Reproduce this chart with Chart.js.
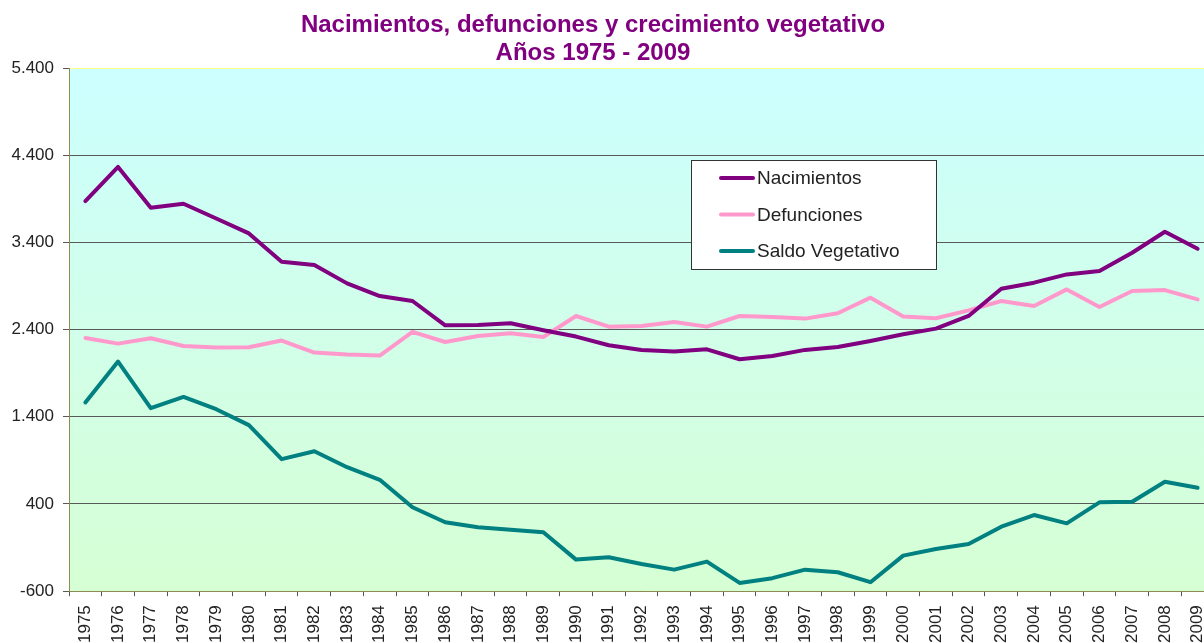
<!DOCTYPE html>
<html lang="es">
<head>
  <meta charset="UTF-8">
  <title>Nacimientos, defunciones y crecimiento vegetativo</title>
  <script src="https://cdn.jsdelivr.net/npm/chart.js@4.4.1/dist/chart.umd.min.js"></script>
  <style>
    html, body { margin: 0; padding: 0; overflow: hidden; background: #fff; }
    .chartbox { width: 1227px; height: 652px; position: relative; }
  </style>
</head>
<body>

  <div class="chartbox">
    <canvas id="myChart"></canvas>
  </div>

  <script>
    // Datos
    const titleLines = ['Nacimientos, defunciones y crecimiento vegetativo', 'Años 1975 - 2009'];

    const years = ['1975', '1976', '1977', '1978', '1979', '1980', '1981', '1982', '1983', '1984',
      '1985', '1986', '1987', '1988', '1989', '1990', '1991', '1992', '1993', '1994',
      '1995', '1996', '1997', '1998', '1999', '2000', '2001', '2002', '2003', '2004',
      '2005', '2006', '2007', '2008', '2009'];

    const nacimientos = [3873, 4266, 3797, 3843, 3674, 3503, 3179, 3140, 2930, 2785,
      2728, 2449, 2453, 2472, 2392, 2320, 2220, 2167, 2148, 2174,
      2060, 2098, 2167, 2201, 2270, 2346, 2411, 2556, 2869, 2938,
      3033, 3071, 3281, 3522, 3327];

    const defunciones = [2304, 2239, 2300, 2212, 2194, 2197, 2274, 2136, 2114, 2102,
      2373, 2258, 2327, 2358, 2315, 2556, 2434, 2441, 2487, 2434,
      2556, 2544, 2526, 2587, 2766, 2549, 2530, 2621, 2728, 2670,
      2861, 2659, 2842, 2853, 2747];

    const saldo = [1564, 2033, 1499, 1628, 1487, 1304, 914, 1005, 822, 677,
      362, 190, 133, 105, 75, -238, -211, -288, -353, -261,
      -505, -451, -353, -383, -497, -192, -116, -58, 140, 273,
      178, 419, 426, 655, 586];

    const yTicks = [-600, 400, 1400, 2400, 3400, 4400, 5400];

    function fmt(v) {
      return String(v).replace(/\B(?=(\d{3})+(?!\d))/g, '.');
    }

    /* fondo degradado del area del grafico */
    const background = {
      id: 'background',
      beforeDraw(chart) {
        const { ctx, chartArea: a } = chart;
        ctx.save();
        ctx.fillStyle = '#ffffff';
        ctx.fillRect(0, 0, chart.width, chart.height);
        const g = ctx.createLinearGradient(0, a.top, 0, a.bottom);
        g.addColorStop(0, '#ccffff');
        g.addColorStop(1, '#d6ffd4');
        ctx.fillStyle = g;
        ctx.fillRect(a.left, a.top, a.right - a.left, a.bottom - a.top);
        ctx.restore();
      }
    };

    /* titulo y leyenda dibujados a mano */
    const titleAndLegend = {
      id: 'titleAndLegend',
      afterDraw(chart) {
        const ctx = chart.ctx;
        ctx.save();
        ctx.fillStyle = '#800080';
        ctx.font = 'bold 24px "Liberation Sans", Arial, sans-serif';
        ctx.textAlign = 'center';
        ctx.textBaseline = 'alphabetic';
        ctx.fillText(titleLines[0], 593, 32);
        ctx.fillText(titleLines[1], 593, 60);

        // caja de la leyenda
        ctx.fillStyle = '#ffffff';
        ctx.fillRect(691.5, 160.5, 245, 109);
        ctx.strokeStyle = '#333333';
        ctx.lineWidth = 1;
        ctx.strokeRect(691.5, 160.5, 245, 109);

        ctx.font = '19px "Liberation Sans", Arial, sans-serif';
        ctx.textAlign = 'left';
        ctx.textBaseline = 'middle';
        chart.data.datasets.forEach(function (ds, i) {
          const y = 178 + i * 36.5;
          ctx.strokeStyle = ds.borderColor;
          ctx.lineWidth = 4;
          ctx.lineCap = 'round';
          ctx.beginPath();
          ctx.moveTo(721, y);
          ctx.lineTo(753, y);
          ctx.stroke();
          ctx.fillStyle = '#222222';
          ctx.fillText(ds.label, 757, y + 1);
        });
        ctx.restore();
      }
    };

    const data = {
      labels: years,
      datasets: [
        {
          label: 'Nacimientos',
          data: nacimientos,
          borderColor: '#800080',
          backgroundColor: '#800080'
        }, {
          label: 'Defunciones',
          data: defunciones,
          borderColor: '#ff99cc',
          backgroundColor: '#ff99cc'
        }, {
          label: 'Saldo Vegetativo',
          data: saldo,
          borderColor: '#008080',
          backgroundColor: '#008080'
        }
      ]
    };

    const config = {
      type: 'line',
      data,
      options: {
        responsive: true,
        maintainAspectRatio: false,
        animation: false,
        layout: { padding: { top: 68, left: 0, right: 0, bottom: 0 } },
        elements: {
          line: { borderWidth: 4, tension: 0, borderJoinStyle: 'round', borderCapStyle: 'round' },
          point: { radius: 0, hoverRadius: 0 }
        },
        plugins: {
          legend: { display: false },
          title: { display: false },
          tooltip: { enabled: false }
        },
        scales: {
          x: {
            type: 'category',
            offset: true,
            grid: {
              offset: true,
              drawOnChartArea: false,
              drawTicks: true,
              tickLength: 5,
              color: '#555555'
            },
            border: { color: '#8c8c50', width: 1 },
            ticks: {
              autoSkip: false,
              minRotation: 90,
              maxRotation: 90,
              padding: 9,
              color: '#222222',
              font: { family: '"Liberation Sans", Arial, sans-serif', size: 17 }
            }
          },
          y: {
            min: -600,
            max: 5400,
            afterBuildTicks: function (scale) {
              scale.ticks = yTicks.map(function (v) { return { value: v }; });
            },
            afterFit: function (scale) {
              scale.width = 69;
            },
            grid: {
              drawTicks: true,
              tickLength: 6,
              color: function (c) {
                return c.tick && c.tick.value === 5400 ? '#ffff80' : '#595959';
              },
              tickColor: '#595959'
            },
            border: { color: '#8c8c50', width: 1 },
            ticks: {
              padding: 9,
              color: '#222222',
              font: { family: '"Liberation Sans", Arial, sans-serif', size: 17 },
              callback: function (v) { return fmt(v); }
            }
          }
        }
      },
      plugins: [background, titleAndLegend]
    };

    var myChart = new Chart(document.getElementById('myChart'), config);
  </script>

</body>
</html>
